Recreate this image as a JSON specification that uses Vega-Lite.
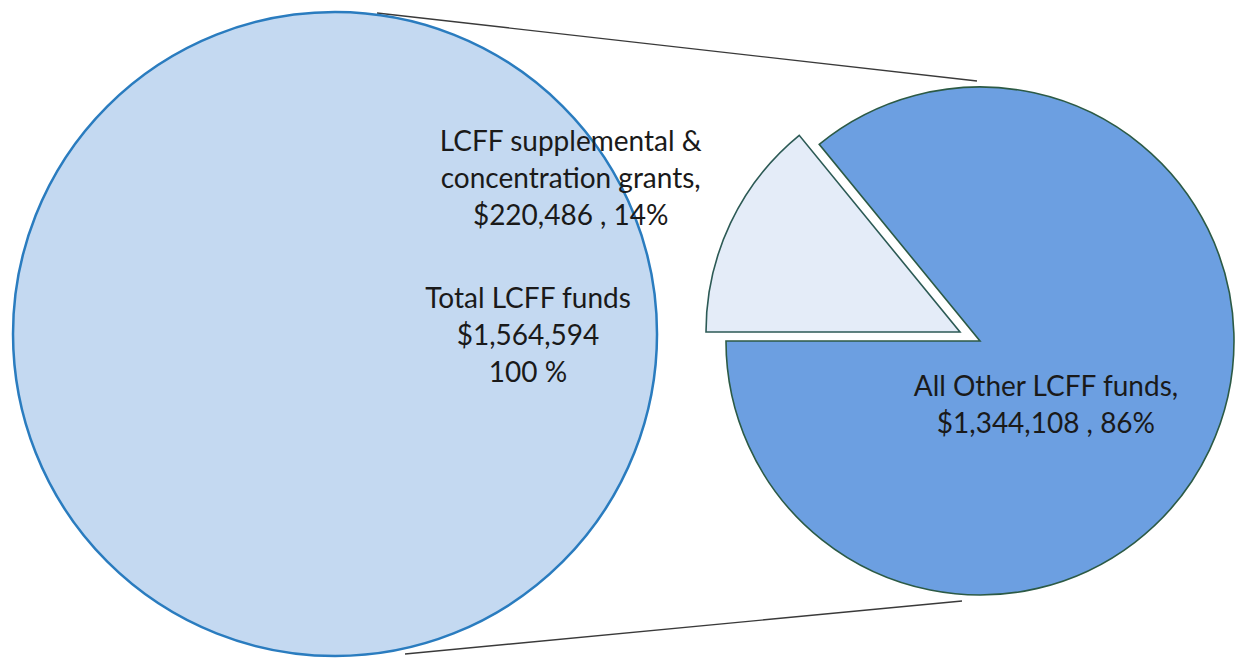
{
  "$schema": "https://vega.github.io/schema/vega-lite/v6.json",
  "width": 1235,
  "height": 660,
  "autosize": {"type": "none"},
  "padding": 0,
  "background": "#ffffff",
  "config": {"view": {"stroke": null}},
  "datasets": {
    "total": [
      {"pie": "Total", "value": 1564594, "label": ["Total LCFF funds", "$1,564,594", "100 %"]}
    ],
    "split": [
      {"pie": "Breakdown", "part": "small", "value": 220486, "label": ["LCFF supplemental  &", "concentration grants,", "$220,486 , 14%"]},
      {"pie": "Breakdown", "part": "other", "value": 1344108, "label": ["All Other LCFF funds,", "$1,344,108 , 86%"]}
    ],
    "links": [
      {"from": "Total", "to": "Breakdown", "edge": "top"},
      {"from": "Total", "to": "Breakdown", "edge": "bottom"}
    ]
  },
  "layer": [
    {
      "data": {"name": "links"},
      "transform": [{"filter": "datum.edge === 'top'"}],
      "mark": {"type": "rule", "color": "#3a3a3a", "strokeWidth": 1.4, "xOffset": 42, "yOffset": -317, "x2Offset": -3, "y2Offset": -249},
      "encoding": {
        "x": {"field": "from", "type": "nominal", "scale": {"type": "point", "domain": ["Total", "Breakdown"], "padding": 0.4574, "align": 0.5678}, "axis": null},
        "x2": {"field": "to"},
        "y": {"datum": 0, "type": "quantitative", "scale": {"domain": [-1, 1]}, "axis": null},
        "y2": {"datum": 0}
      }
    },
    {
      "data": {"name": "links"},
      "transform": [{"filter": "datum.edge === 'bottom'"}],
      "mark": {"type": "rule", "color": "#3a3a3a", "strokeWidth": 1.4, "xOffset": 70, "yOffset": 324, "x2Offset": -18, "y2Offset": 271},
      "encoding": {
        "x": {"field": "from", "type": "nominal", "scale": {"type": "point", "domain": ["Total", "Breakdown"], "padding": 0.4574, "align": 0.5678}, "axis": null},
        "x2": {"field": "to"},
        "y": {"datum": 0, "type": "quantitative", "scale": {"domain": [-1, 1]}, "axis": null},
        "y2": {"datum": 0}
      }
    },
    {
      "data": {"name": "total"},
      "mark": {"type": "arc", "outerRadius": 322, "fill": "#c4d9f1", "stroke": "#2a7cbf", "strokeWidth": 2.5, "yOffset": 4},
      "encoding": {
        "x": {"field": "pie", "type": "nominal", "scale": {"type": "point", "domain": ["Total", "Breakdown"], "padding": 0.4574, "align": 0.5678}, "axis": null},
        "theta": {"field": "value", "type": "quantitative", "stack": true, "scale": {"range": [4.71238898, 10.99557429]}}
      }
    },
    {
      "data": {"name": "split"},
      "mark": {"type": "arc", "outerRadius": 254, "stroke": "#2c5a45", "strokeWidth": 1.6, "yOffset": 11},
      "encoding": {
        "x": {"field": "pie", "type": "nominal", "scale": {"type": "point", "domain": ["Total", "Breakdown"], "padding": 0.4574, "align": 0.5678}, "axis": null},
        "theta": {"field": "value", "type": "quantitative", "stack": true, "scale": {"range": [4.71238898, 10.99557429]}},
        "order": {"field": "part", "sort": "descending"},
        "color": {"field": "part", "type": "nominal", "scale": {"domain": ["small", "other"], "range": ["#e4ecf8", "#6c9fe1"]}, "legend": null},
        "opacity": {"condition": {"test": "datum.part === 'small'", "value": 0}, "value": 1}
      }
    },
    {
      "data": {"name": "split"},
      "mark": {"type": "arc", "outerRadius": 254, "stroke": "#2c5a55", "strokeWidth": 1.6, "xOffset": -20, "yOffset": 2},
      "encoding": {
        "x": {"field": "pie", "type": "nominal", "scale": {"type": "point", "domain": ["Total", "Breakdown"], "padding": 0.4574, "align": 0.5678}, "axis": null},
        "theta": {"field": "value", "type": "quantitative", "stack": true, "scale": {"range": [4.71238898, 10.99557429]}},
        "order": {"field": "part", "sort": "descending"},
        "color": {"field": "part", "type": "nominal", "scale": {"domain": ["small", "other"], "range": ["#e4ecf8", "#6c9fe1"]}, "legend": null},
        "opacity": {"condition": {"test": "datum.part === 'small'", "value": 1}, "value": 0}
      }
    },
    {
      "data": {"name": "total"},
      "mark": {"type": "text", "radius": 193, "yOffset": -30, "font": "Lato", "fontSize": 28, "lineHeight": 37, "fill": "#1a1a1a"},
      "encoding": {
        "x": {"field": "pie", "type": "nominal", "scale": {"type": "point", "domain": ["Total", "Breakdown"], "padding": 0.4574, "align": 0.5678}, "axis": null},
        "theta": {"field": "value", "type": "quantitative", "stack": true, "scale": {"range": [4.71238898, 10.99557429]}},
        "text": {"field": "label"}
      }
    },
    {
      "data": {"name": "split"},
      "mark": {"type": "text", "radius": 450, "thetaOffset": -0.014, "font": "Lato", "fontSize": 28, "lineHeight": 37, "fill": "#1a1a1a"},
      "encoding": {
        "x": {"field": "pie", "type": "nominal", "scale": {"type": "point", "domain": ["Total", "Breakdown"], "padding": 0.4574, "align": 0.5678}, "axis": null},
        "theta": {"field": "value", "type": "quantitative", "stack": true, "scale": {"range": [4.71238898, 10.99557429]}},
        "order": {"field": "part", "sort": "descending"},
        "text": {"condition": {"test": "datum.part === 'small'", "field": "label"}, "value": ""}
      }
    },
    {
      "data": {"name": "split"},
      "mark": {"type": "text", "radius": 88, "thetaOffset": 0.281, "font": "Lato", "fontSize": 28, "lineHeight": 37, "fill": "#1a1a1a"},
      "encoding": {
        "x": {"field": "pie", "type": "nominal", "scale": {"type": "point", "domain": ["Total", "Breakdown"], "padding": 0.4574, "align": 0.5678}, "axis": null},
        "theta": {"field": "value", "type": "quantitative", "stack": true, "scale": {"range": [4.71238898, 10.99557429]}},
        "order": {"field": "part", "sort": "descending"},
        "text": {"condition": {"test": "datum.part === 'other'", "field": "label"}, "value": ""}
      }
    }
  ]
}
